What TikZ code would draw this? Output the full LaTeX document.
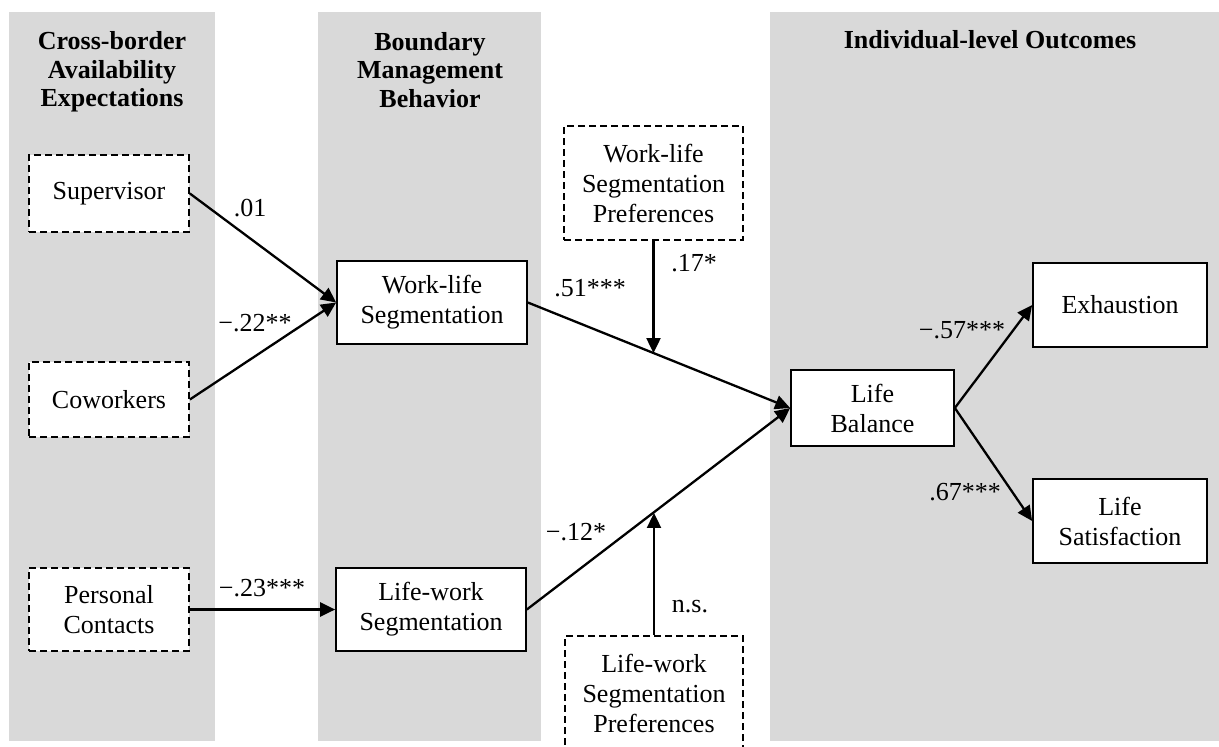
\documentclass[tikz,border=0pt]{standalone}
\usepackage{fontspec}
\setmainfont{Liberation Serif}
\usetikzlibrary{arrows.meta,calc}
\definecolor{bandgray}{RGB}{217,217,217}
\begin{document}
\begin{tikzpicture}[x=1pt,y=-1pt,
  every node/.style={font=\fontsize{26}{30}\selectfont, align=center, inner sep=0pt},
  band/.style={fill=bandgray, draw=none},
  head/.style={font=\fontsize{26}{28.5}\selectfont\bfseries},
  solidbox/.style={draw, line width=1.7pt, fill=white},
  dashbox/.style={draw, line width=1.7pt, fill=white, dash pattern=on 7pt off 4pt},
  link/.style={line width=2.3pt, -{Triangle[length=15pt,width=14pt]}},
  coef/.style={font=\fontsize{26}{30}\selectfont}
]
\clip (0,0) rectangle (1219,747);
\fill[white] (0,0) rectangle (1219,747);

% column bands
\fill[band] (9,12) rectangle (215,741);
\fill[band] (318,12) rectangle (541,741);
\fill[band] (770,12) rectangle (1219,741);

% column headings
\node[head] (h1) at (112,72) {Cross-border\\Availability\\Expectations};
\node[head] (h2) at (430,70) {Boundary\\Management\\Behavior};
\node[head] (h3) at (990,40) {Individual-level Outcomes};

% antecedents
\node[dashbox, minimum width=160pt, minimum height=77pt] (sup) at (109,193.5) {Supervisor};
\node[dashbox, minimum width=160pt, minimum height=75pt] (cow) at (109,399.5) {Coworkers};
\node[dashbox, minimum width=160pt, minimum height=83pt] (pc) at (109,609.5) {Personal\\Contacts};

% boundary management
\node[solidbox, minimum width=190pt, minimum height=83pt] (wls) at (432,302.5) {Work-life\\Segmentation};
\node[solidbox, minimum width=190pt, minimum height=83pt] (lws) at (431,609.5) {Life-work\\Segmentation};

% moderators
\node[dashbox, minimum width=179pt, minimum height=114pt] (wpref) at (653.5,183) {Work-life\\Segmentation\\Preferences};
\node[dashbox, minimum width=178pt, minimum height=114pt] (lpref) at (654,693) {Life-work\\Segmentation\\Preferences};

% outcomes
\node[solidbox, minimum width=163pt, minimum height=76pt] (lb) at (872.5,408) {Life\\Balance};
\node[solidbox, minimum width=174pt, minimum height=84pt] (exh) at (1120,305) {Exhaustion};
\node[solidbox, minimum width=174pt, minimum height=84pt] (lsat) at (1120,521) {Life\\Satisfaction};

% paths
\draw[link] (sup.east) -- (wls.west);
\draw[link] (cow.east) -- (wls.west);
\draw[link] (pc.east) -- (lws.west);
\draw[link] (wls.east) -- (lb.west);
\draw[link] (lws.east) -- (lb.west);
\draw[link] (lb.east) -- (exh.west);
\draw[link] (lb.east) -- (lsat.west);

% moderation points on the paths
\coordinate (m1) at ($(wls.east)!0.479!(lb.west)$);
\coordinate (m2) at ($(lws.east)!0.479!(lb.west)$);
\draw[link] (wpref.south) -- (wpref.south |- m1);
\draw[link] (lpref.north) -- (lpref.north |- m2);

% coefficients
\node[coef] (c1) at (250,208) {.01};
\node[coef] (c2) at (255,323) {−.22**};
\node[coef] (c3) at (262,588) {−.23***};
\node[coef] (c4) at (590,288) {.51***};
\node[coef] (c5) at (694,263) {.17*};
\node[coef] (c6) at (576,532) {−.12*};
\node[coef] (c7) at (690,607) {n.s.};
\node[coef] (c8) at (962,330) {−.57***};
\node[coef] (c9) at (965,492) {.67***};
\end{tikzpicture}
\end{document}
